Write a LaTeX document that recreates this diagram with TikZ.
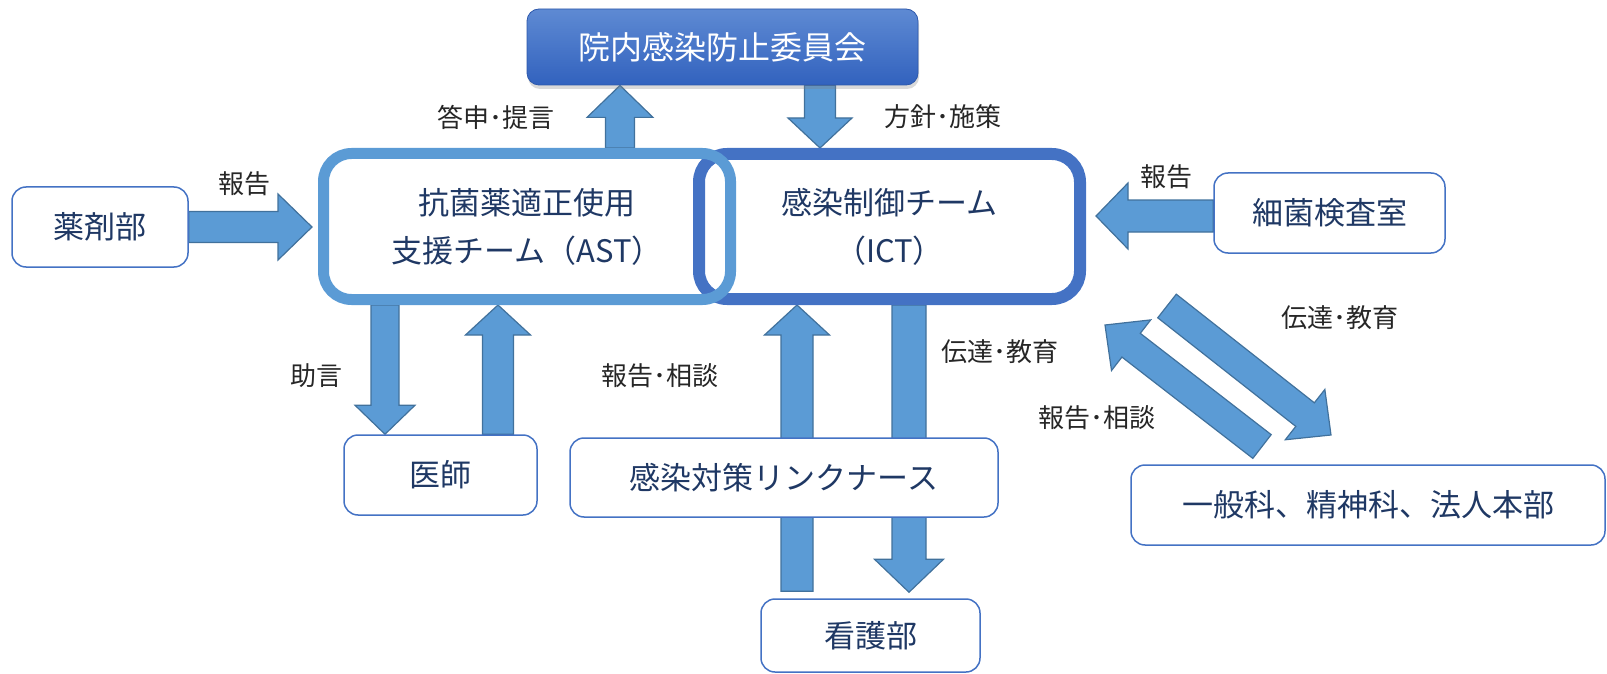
\documentclass[tikz,border=0pt]{standalone}
\usepackage{fontspec}
\newfontfamily\jp{Noto Sans CJK JP}
\usetikzlibrary{calc,shadows}
\definecolor{arrowfill}{HTML}{5B9BD5}
\definecolor{arrowedge}{HTML}{41719C}
\definecolor{astblue}{HTML}{5B9BD5}
\definecolor{ictblue}{HTML}{4472C4}
\definecolor{boxblue}{HTML}{4472C4}
\definecolor{navy}{HTML}{1F3864}
\definecolor{lbltext}{HTML}{262626}
\definecolor{commtop}{HTML}{5E8AD3}
\definecolor{commbot}{HTML}{3262BE}
\pgfdeclarelayer{bg}
\pgfsetlayers{bg,main}
\newcommand\blockarrow[5]{%
  \draw[barrow] let \p1=(#1), \p2=(#2), \n1={atan2(\y2-\y1,\x2-\x1)} in
    ($(\p1)+({\n1+90}:#3)$) -- ($(\p2)+({\n1+180}:#5)+({\n1+90}:#3)$)
    -- ($(\p2)+({\n1+180}:#5)+({\n1+90}:#4)$) -- (\p2)
    -- ($(\p2)+({\n1+180}:#5)+({\n1-90}:#4)$) -- ($(\p2)+({\n1+180}:#5)+({\n1-90}:#3)$)
    -- ($(\p1)+({\n1-90}:#3)$) -- cycle;
}
\begin{document}
\begin{tikzpicture}[x=1pt,y=-1pt,
  box/.style={draw=boxblue, line width=1.5pt, rounded corners=14pt, fill=white,
    font=\jp\fontsize{31}{40}\selectfont, text=navy, inner sep=0pt},
  team/.style={rounded corners=28pt, align=center, inner sep=0pt,
    font=\jp\fontsize{31}{48}\selectfont, text=navy},
  lbl/.style={font=\jp\fontsize{26}{30}\selectfont, text=lbltext, inner sep=0pt},
  barrow/.style={draw=arrowedge, fill=arrowfill, line width=1.2pt, line join=miter},
]
\useasboundingbox (0,0) rectangle (1607,674);

% nodes
\node[rounded corners=12pt, top color=commtop, bottom color=commbot, draw=commbot!90!black, line width=0.8pt,
  drop shadow={opacity=0.3, shadow xshift=1pt, shadow yshift=-4pt},
  minimum width=391pt, minimum height=76pt, inner sep=0pt,
  font=\jp\fontsize{32}{40}\selectfont, text=white] (comm) at (722.5,47) {院内感染防止委員会};

\node[team, draw=ictblue, fill=white, line width=12pt, minimum width=381pt, minimum height=145pt]
  (ict) at (889.5,226.5) {感染制御チーム\\（ICT）};
\node[team, draw=astblue, line width=11pt, minimum width=407pt, minimum height=146pt]
  (ast) at (527,226.5) {抗菌薬適正使用\\支援チーム（AST）};

\node[box, minimum width=176pt, minimum height=80pt] (yaku) at (100,227) {薬剤部};
\node[box, minimum width=231pt, minimum height=80pt] (saikin) at (1329.5,213) {細菌検査室};
\node[box, minimum width=474pt, minimum height=80pt] (ippan) at (1368,505) {一般科、精神科、法人本部};
\node[box, minimum width=193pt, minimum height=80pt] (ishi) at (440.5,475) {医師};
\node[box, minimum width=428pt, minimum height=79pt] (link) at (784,477.5) {感染対策リンクナース};
\node[box, minimum width=219pt, minimum height=73pt] (kango) at (870.5,635.5) {看護部};

% labels
\node[lbl] (l1) at (496,117) {答申･提言};
\node[lbl] (l2) at (943,117) {方針･施策};
\node[lbl] (l3) at (244,184) {報告};
\node[lbl] (l4) at (1166,177) {報告};
\node[lbl] (l5) at (316,376) {助言};
\node[lbl] (l6) at (660,376) {報告･相談};
\node[lbl] (l7) at (1000,352) {伝達･教育};
\node[lbl] (l8) at (1340,318) {伝達･教育};
\node[lbl] (l9) at (1097,418) {報告･相談};

% x positions of vertical arrows
\coordinate (xa) at (620,0);
\coordinate (xb) at (820,0);
\coordinate (xc) at (385,0);
\coordinate (xd) at (498,0);
\coordinate (xe) at (797,0);
\coordinate (xf) at (909,0);
\coordinate (t1) at ($(yaku.east -| ast.west)+(-6,0)$);
\coordinate (s2) at ($(saikin.west)+(0,3)$);
\coordinate (t2) at ($(s2 -| ict.east)+(10,0)$);
\coordinate (s7) at ($(kango.north -| xe)+(0,-7)$);
\coordinate (t8) at ($(kango.north -| xf)+(0,-6)$);
\coordinate (d1s) at (1167,306);
\coordinate (d1t) at (1331,435);
\coordinate (d2s) at (1262,446.5);
\coordinate (d2t) at (1105,325);

\begin{pgfonlayer}{bg}
\blockarrow{yaku.east}{t1}{15.5pt}{33pt}{34pt}
\blockarrow{s2}{t2}{16pt}{33pt}{32pt}
\blockarrow{ast.north -| xa}{comm.south -| xa}{14.5pt}{33pt}{32pt}
\blockarrow{comm.south -| xb}{ict.north -| xb}{15.5pt}{32pt}{30pt}
\blockarrow{ast.south -| xc}{ishi.north -| xc}{14pt}{30pt}{29pt}
\blockarrow{ishi.north -| xd}{ast.south -| xd}{15.5pt}{32.5pt}{30pt}
\blockarrow{s7}{ict.south -| xe}{16pt}{32.5pt}{30pt}
\blockarrow{ict.south -| xf}{t8}{17pt}{34.5pt}{33pt}
\blockarrow{d1s}{d1t}{15pt}{32pt}{33pt}
\blockarrow{d2s}{d2t}{15pt}{32pt}{33pt}
\end{pgfonlayer}
\end{tikzpicture}
\end{document}
